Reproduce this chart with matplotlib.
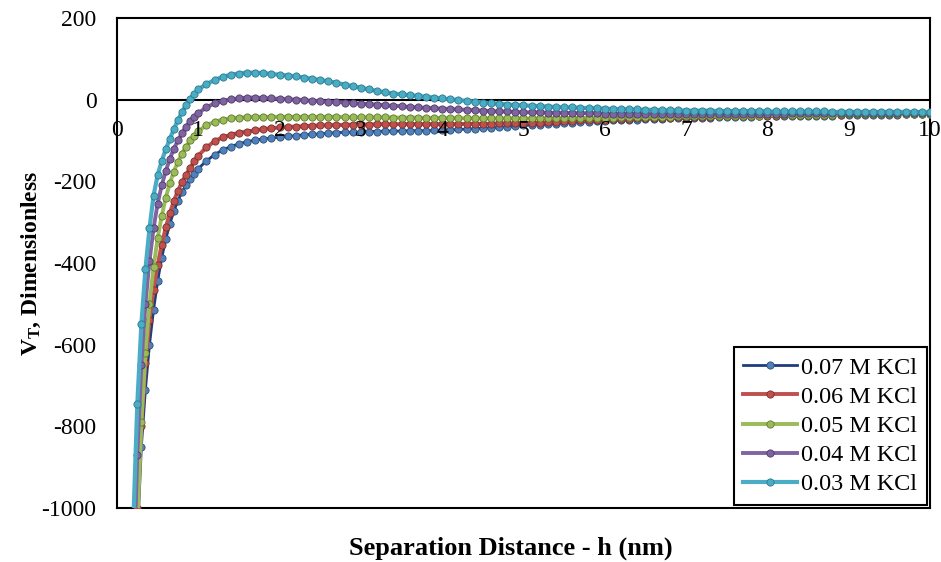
import numpy as np
import matplotlib
matplotlib.use("Agg")
import matplotlib.pyplot as plt

plt.rcParams['font.family'] = ['Liberation Serif', 'DejaVu Serif']
plt.rcParams['mathtext.fontset'] = 'custom'
plt.rcParams['mathtext.rm'] = 'Liberation Serif'
plt.rcParams['mathtext.bf'] = 'Liberation Serif:bold'
plt.rcParams['mathtext.it'] = 'Liberation Serif:italic'
plt.rcParams['axes.unicode_minus'] = False

# separation distance grid (nm): 0.05 steps up to 1 nm, then 0.1 steps
h = np.round(np.concatenate([np.arange(0.2, 1.0001, 0.05),
                             np.arange(1.1, 10.0001, 0.1)]), 2)

labels = ['0.07 M KCl', '0.06 M KCl', '0.05 M KCl', '0.04 M KCl', '0.03 M KCl']

v_007 = [-1450, -1080, -850, -710, -600, -515, -445, -388, -342, -304, -273, -247, -226, -209, -194, -181, -169,
         -150, -135, -123, -115, -108, -103, -99, -96, -94, -92,
         -90, -88, -86, -85, -84, -82, -81, -80, -80, -79,
         -78, -78, -77, -77, -77, -76, -76, -76, -75, -75,
         -74, -73, -72, -71, -70, -69, -68, -66, -65, -63,
         -62, -61, -60, -59, -57, -56, -55, -54, -53, -52,
         -51, -50, -50, -49, -48, -47, -47, -46, -46, -45,
         -45, -44, -44, -43, -43, -43, -42, -42, -41, -41,
         -41, -40, -40, -40, -40, -39, -39, -39, -38, -38,
         -38, -38, -37, -37, -37, -37, -36, -36, -36, -36]

v_006 = [-1350, -1000, -800, -645, -540, -465, -405, -355, -313, -278, -248, -223, -202, -184, -167, -151, -137,
         -117, -102, -92, -86, -81, -78, -75, -72, -70, -68,
         -67, -66, -65, -64, -63, -63, -62, -62, -61, -61,
         -61, -60, -60, -60, -60, -60, -60, -60, -60, -60,
         -60, -60, -59, -59, -59, -59, -58, -58, -58, -57,
         -56, -56, -55, -54, -53, -52, -51, -51, -50, -49,
         -48, -47, -47, -46, -45, -45, -44, -44, -43, -43,
         -42, -42, -42, -41, -41, -40, -40, -40, -39, -39,
         -39, -38, -38, -38, -38, -37, -37, -37, -37, -36,
         -36, -36, -36, -36, -35, -35, -35, -35, -35, -35]

v_005 = [-1450, -1050, -790, -620, -500, -410, -340, -285, -240, -205, -176, -152, -132, -115, -100, -88, -77,
         -63, -54, -49, -46, -44, -43, -42, -42, -42, -42,
         -42, -42, -42, -42, -42, -42, -42, -43, -43, -43,
         -43, -43, -43, -44, -44, -44, -44, -45, -45, -45,
         -45, -45, -46, -46, -46, -46, -46, -46, -46, -46,
         -46, -46, -45, -45, -45, -45, -45, -44, -44, -44,
         -44, -43, -43, -43, -42, -42, -42, -42, -41, -41,
         -41, -40, -40, -40, -40, -39, -39, -39, -39, -38,
         -38, -38, -38, -37, -37, -37, -37, -37, -36, -36,
         -36, -36, -36, -35, -35, -35, -35, -35, -35, -34]

v_004 = [-1200, -870, -650, -500, -395, -315, -255, -210, -175, -145, -120, -100, -82, -66, -53, -42, -33,
         -19, -9, -3, 1, 3, 5, 5, 4, 3, 2,
         1, 0, -1, -3, -4, -5, -6, -7, -8, -10,
         -11, -12, -14, -15, -16, -18, -19, -20, -21, -22,
         -23, -24, -25, -26, -27, -28, -29, -29, -30, -31,
         -31, -31, -32, -32, -32, -33, -33, -33, -33, -34,
         -34, -34, -34, -34, -34, -34, -34, -34, -34, -34,
         -34, -34, -34, -34, -34, -34, -34, -34, -34, -34,
         -34, -34, -33, -33, -33, -33, -33, -33, -33, -33,
         -33, -33, -33, -33, -33, -33, -32, -32, -32, -32]

v_003 = [-1040, -745, -550, -415, -315, -235, -185, -150, -122, -96, -72, -50, -30, -13, 2, 14, 25,
         38, 48, 56, 61, 64, 66, 66, 65, 63, 61,
         59, 57, 54, 51, 48, 45, 41, 37, 33, 29,
         25, 21, 18, 15, 13, 11, 9, 7, 5, 3,
         1, -1, -3, -5, -7, -9, -10, -12, -13, -14,
         -15, -16, -17, -18, -19, -19, -20, -21, -21, -22,
         -23, -23, -24, -24, -25, -25, -26, -26, -26, -27,
         -27, -27, -27, -28, -28, -28, -28, -28, -28, -29,
         -29, -29, -29, -29, -29, -29, -29, -30, -30, -30,
         -30, -30, -30, -30, -30, -30, -30, -30, -31, -31]

series = [v_007, v_006, v_005, v_004, v_003]
line_colors = ['#1F3D7A', '#C0504D', '#9BBB59', '#8064A2', '#4BACC6']
marker_colors = ['#4F81BD', '#C0504D', '#9BBB59', '#8064A2', '#4BACC6']
edge_colors = ['#2C4D75', '#7A2E2C', '#5E7A2E', '#4D3B66', '#2B7A8E']
widths = [2.0, 2.8, 2.8, 2.8, 3.0]

fig, ax = plt.subplots(figsize=(9.41, 5.62), dpi=100)
fig.subplots_adjust(left=0.1243, right=0.9883, bottom=0.0961, top=0.968)

ax.axhline(0, color='black', lw=1.5, zorder=1)

for vals, lab, lc, mc, ec, lw in zip(series, labels, line_colors, marker_colors, edge_colors, widths):
    ax.plot(h, vals, color=lc, lw=lw, marker='o', markersize=5.2,
            markerfacecolor=mc, markeredgecolor=ec, markeredgewidth=0.6,
            label=lab, zorder=3)

ax.set_xlim(0, 10)
ax.set_ylim(-1000, 200)
ax.set_yticks(np.arange(-1000, 201, 200))
ax.set_xticks(np.arange(0, 11, 1))
ax.tick_params(axis='y', length=0, pad=14.8, labelsize=17)
ax.tick_params(axis='x', length=0, labelbottom=False)

# x tick labels sit under the zero line
for t in range(0, 11):
    ax.annotate(str(t), xy=(t, 0), xytext=(0, -14.5), textcoords='offset points',
                ha='center', va='top', fontsize=17, annotation_clip=False)

for s in ax.spines.values():
    s.set_linewidth(1.5)
    s.set_color('black')

ax.set_xlabel('Separation Distance - h (nm)', fontsize=19, fontweight='bold')
ax.xaxis.set_label_coords(0.485, -0.058)
ax.set_ylabel(r'$\mathbf{V_T}$, Dimensionless', fontsize=17, fontweight='bold')
ax.yaxis.set_label_coords(-0.091, 0.5)

leg = ax.legend(loc='lower right', fontsize=17.4, frameon=True, fancybox=False,
                edgecolor='black', framealpha=1, borderaxespad=0.12,
                labelspacing=0.3, handlelength=2.2, handletextpad=0.2,
                borderpad=0.4)
leg.get_frame().set_linewidth(1.5)

fig.savefig('out.png', dpi=100)
